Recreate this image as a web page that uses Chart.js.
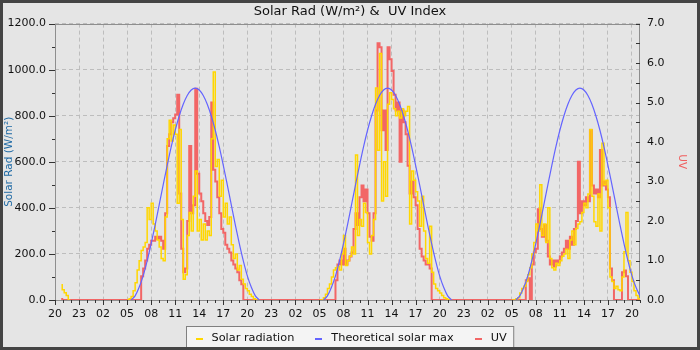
<!DOCTYPE html>
<html>
<head>
<meta charset="utf-8">
<title>Solar Rad &amp; UV Index</title>
<script src="https://cdn.jsdelivr.net/npm/chart.js@4.4.1/dist/chart.umd.min.js"></script>
<style>
  body { margin: 0; background: #e5e5e5; }
  canvas { display: block; }
</style>
</head>
<body>
<canvas id="solar_graph" width="700" height="350"></canvas>
<script>
// x axis counts hours from 20:00 on the first evening
const hourLabels = ["20","23","02","05","08","11","14","17",
                    "20","23","02","05","08","11","14","17",
                    "20","23","02","05","08","11","14","17","20"];
const seriesNames  = ["Solar radiation", "Theoretical solar max", "UV"];
const seriesColors = ["#ffd700", "#6464ff", "#f26666"];

// first evening, 15 min steps from 20:54
const eveStart = 0.9;
const eveSolar = [70, 45, 32, 20, 0];
const eveUV    = [0.05, 0, 0, 0, 0];

// daytime, 15 min steps from 05:00 (hour 9, 33, 57 on the axis)
const dayStart = [9, 33, 57];

const solarDay1 = [0,0,5,15,40,75,130,170,
    215,230,250,400, 350,420,330,300, 260,230,180,170, 360,700,780,690,
    760,720,420,740, 350,90,110,280, 380,300,450,560, 300,350,260,330,
    260,300,280,700, 990,580,610,450, 520,360,420,330, 360,240,180,200,
    130,150,90,70, 50,40,25,15, 5,0,0];
const uvDay1 = [0,0,0,0,0,0,0,0,
    0.6,0.8,1.0,1.3, 1.4,1.5,1.5,1.6, 1.55,1.6,1.5,1.3, 2.2,3.9,4.2,4.5,
    4.6,4.7,5.2,2.7, 1.3,0.7,0.8,2.0, 3.9,2.2,2.4,5.35, 3.2,2.7,2.5,2.2,
    2.0,1.9,2.1,5.0, 3.3,3.0,2.6,2.2, 1.8,1.7,1.4,1.3, 1.2,1.0,0.9,0.8,
    0.7,0.5,0.4,0, 0,0,0,0, 0,0,0];

const solarDay2 = [0,0,0,10,25,50,70,100,
    130,140,145,130, 200,280,150,170, 190,230,200,630, 280,350,320,420,
    380,250,200,280, 350,920,650,1070, 430,600,450,850, 900,870,830,800,
    820,790,830,800, 820,840,330,560, 520,470,430,320, 450,300,180,160,
    320,120,70,50, 40,30,20,10, 5,0,0];
const uvDay2 = [0,0,0,0,0,0,0,0,
    0,0.5,0.9,1.0, 0.9,1.3,0.9,1.0, 1.1,1.2,1.8,2.2, 1.9,2.6,2.9,2.5,
    2.8,2.2,1.6,1.5, 2.2,4.8,6.5,6.4, 4.3,4.8,3.8,6.4, 6.1,5.8,5.2,4.8,
    5.0,3.5,4.8,4.5, 4.2,3.4,2.7,3.0, 2.6,2.4,1.8,1.3, 1.1,1.0,0.9,0.9,
    0.8,0,0,0, 0,0,0,0, 0,0,0];

const solarDay3 = [0,0,0,5,10,30,50,60,
    80,110,140,200, 250,330,300,500, 280,330,250,400, 180,140,130,160,
    150,170,190,200, 220,180,260,300, 240,310,330,340, 380,420,400,460,
    740,450,340,320, 460,300,680,500, 520,400,100,80, 50,60,45,40,
    100,210,380,170, 120,80,40,20, 5];
const uvDay3 = [0,0,0,0,0,0,0,0,
    0.5,0.55,0,0.9, 1.2,1.3,2.3,1.8, 1.6,1.9,1.5,1.1, 0.9,1.0,0.85,1.0,
    0.95,1.1,1.2,1.3, 1.5,1.3,1.6,1.4, 1.8,2.0,3.5,2.2, 2.5,2.4,2.6,2.5,
    4.3,2.9,2.7,2.8, 2.6,3.8,2.9,3.0, 2.8,2.6,0.8,0.5, 0,0,0,0,
    0.7,0.75,0.6,0, 0,0,0,0, 0];

// theoretical max, 30 min steps from 05:30
const theoStart = [9.5, 33.5, 57.5];
const theoDay1 = [0,18,55,105,170,245,326,413,500,585,665,737,799,850,888,912,
                  920,912,888,850,799,737,665,585,500,413,326,245,170,105,55,18,0];
const theoDay2 = [0,18,55,105,170,245,326,413,500,585,665,737,799,850,888,912,
                  920,912,888,850,799,737,665,585,500,413,326,245,170,105,55,18,0];
const theoDay3 = [0,18,55,105,170,245,326,413,500,585,665,737,799,850,888,912,
                  920,912,888,850,799,737,665,585,500,413,326,245,170,105,55,18];

const gridColor  = "#bdbdbd";
const frameColor = "#8e8e8e";

function points(start, step, values){
    let pts = [];
    for (let i = 0; i < values.length; i++){
        pts.push({x: start + i * step, y: values[i]});
    }
    return pts;
}
function gap(x){ return {x: x, y: null}; }

let solarData = [].concat(
    points(eveStart, 0.25, eveSolar), [gap(5)],
    points(dayStart[0], 0.25, solarDay1), [gap(29)],
    points(dayStart[1], 0.25, solarDay2), [gap(53)],
    points(dayStart[2], 0.25, solarDay3));

let uvData = [].concat(
    points(eveStart, 0.25, eveUV),
    points(dayStart[0], 0.25, uvDay1),
    points(dayStart[1], 0.25, uvDay2),
    points(dayStart[2], 0.25, uvDay3));

let theoData = [].concat(
    points(theoStart[0], 0.5, theoDay1), [gap(29)],
    points(theoStart[1], 0.5, theoDay2), [gap(53)],
    points(theoStart[2], 0.5, theoDay3));

// background, plot frame, short ticks, legend box and outer border
const decor = {
    id: "decor",
    beforeDraw(chart){
        const ctx = chart.ctx;
        ctx.save();
        ctx.fillStyle = "#e5e5e5";
        ctx.fillRect(0, 0, chart.width, chart.height);
        ctx.restore();
    },
    beforeDatasetsDraw(chart){
        const {ctx, chartArea: a, scales} = chart;
        ctx.save();
        ctx.strokeStyle = frameColor;
        ctx.lineWidth = 1;
        ctx.strokeRect(Math.round(a.left) + 0.5, Math.round(a.top) + 0.5,
                       Math.round(a.right - a.left) - 1, Math.round(a.bottom - a.top));
        ctx.strokeStyle = "#333";
        ctx.beginPath();
        for (let t of scales.x.ticks){
            const x = Math.round(scales.x.getPixelForValue(t.value)) + 0.5;
            const len = t.value % 3 === 0 ? 5 : 3;
            ctx.moveTo(x, a.bottom); ctx.lineTo(x, a.bottom + len);
        }
        for (let t of scales.y.ticks){
            const y = Math.round(scales.y.getPixelForValue(t.value)) + 0.5;
            const len = t.value % 200 === 0 ? 6 : 3;
            ctx.moveTo(a.left - len, y); ctx.lineTo(a.left, y);
        }
        for (let t of scales.uv.ticks){
            const y = Math.round(scales.uv.getPixelForValue(t.value)) + 0.5;
            ctx.moveTo(a.right - 4, y); ctx.lineTo(a.right, y);
        }
        ctx.stroke();
        ctx.restore();
    },
    afterDraw(chart){
        const ctx = chart.ctx;
        ctx.save();
        ctx.font = "11.3px 'DejaVu Sans'";
        const markW = 7, markGap = 9, itemGap = 21, padL = 9, padR = 7;
        const widths = seriesNames.map(n => ctx.measureText(n).width);
        let total = padL + padR;
        widths.forEach((w, i) => { total += markW + markGap + w + (i ? itemGap : 0); });
        let x = Math.round(chart.width / 2 - total / 2) + 0.5;
        const top = 326.5;
        ctx.fillStyle = "#f4f4f4";
        ctx.fillRect(x, top, total, 30);
        ctx.strokeStyle = "#808080";
        ctx.lineWidth = 1;
        ctx.strokeRect(x, top, total, 30);
        x += padL;
        ctx.textBaseline = "middle";
        seriesNames.forEach((n, i) => {
            ctx.fillStyle = seriesColors[i];
            ctx.fillRect(Math.round(x), 338, markW, 2);
            x += markW + markGap;
            ctx.fillStyle = "#111";
            ctx.fillText(n, x, 338);
            x += widths[i] + itemGap;
        });
        ctx.strokeStyle = "#444";
        ctx.lineWidth = 3;
        ctx.strokeRect(1.5, 1.5, chart.width - 3, chart.height - 3);
        ctx.restore();
    }
};

Chart.defaults.font.family = "'DejaVu Sans', sans-serif";
Chart.defaults.color = "#111";

const ctx = document.getElementById("solar_graph").getContext("2d");
const solarChart = new Chart(ctx, {
    type: "line",
    data: {
        datasets: [{
            label: seriesNames[0],
            data: solarData,
            yAxisID: "y",
            borderColor: seriesColors[0],
            backgroundColor: seriesColors[0],
            borderWidth: 1.5,
            stepped: "after",
            pointRadius: 0,
            spanGaps: false,
            order: 1
        }, {
            label: seriesNames[1],
            data: theoData,
            yAxisID: "y",
            borderColor: seriesColors[1],
            backgroundColor: seriesColors[1],
            borderWidth: 1.2,
            cubicInterpolationMode: "monotone",
            pointRadius: 0,
            spanGaps: false,
            order: 0
        }, {
            label: seriesNames[2],
            data: uvData,
            yAxisID: "uv",
            borderColor: seriesColors[2],
            backgroundColor: seriesColors[2],
            borderWidth: 2,
            stepped: "after",
            pointRadius: 0,
            order: 2
        }]
    },
    options: {
        responsive: false,
        animation: false,
        events: [],
        layout: { padding: { left: 3, right: 3, top: 0, bottom: 28 } },
        plugins: {
            legend: { display: false },
            tooltip: { enabled: false },
            title: {
                display: true,
                text: "Solar Rad (W/m²) &  UV Index",
                color: "#111",
                font: { size: 13, weight: "normal" },
                padding: { top: 4, bottom: 4 }
            }
        },
        scales: {
            x: {
                type: "linear",
                min: 0,
                max: 73,
                afterFit: s => { s.height = 22; },
                grid: {
                    color: c => (c.tick && c.tick.value % 3 === 0) ? gridColor : "transparent",
                    drawTicks: false
                },
                border: { display: false, dash: [4, 3] },
                ticks: {
                    stepSize: 1,
                    autoSkip: false,
                    maxRotation: 0,
                    padding: 8,
                    font: { size: 11 },
                    callback: v => v % 3 === 0 ? hourLabels[v / 3] : ""
                }
            },
            y: {
                position: "left",
                min: 0,
                max: 1200,
                afterFit: s => { s.width = 52; },
                grid: {
                    color: c => (c.tick && c.tick.value % 200 === 0) ? gridColor : "transparent",
                    drawTicks: false
                },
                border: { display: false, dash: [4, 3] },
                ticks: {
                    stepSize: 100,
                    autoSkip: false,
                    padding: 9,
                    font: { size: 11 },
                    callback: v => v % 200 === 0 ? v.toFixed(1) : ""
                },
                title: {
                    display: true,
                    text: "Solar Rad (W/m²)",
                    color: "#1f6aa5",
                    font: { size: 10.5 },
                    padding: { top: 0, bottom: 0 }
                }
            },
            uv: {
                position: "right",
                min: 0,
                max: 7,
                afterFit: s => { s.width = 57; },
                grid: { drawOnChartArea: false, drawTicks: false },
                border: { display: false },
                ticks: {
                    stepSize: 0.5,
                    autoSkip: false,
                    padding: 7,
                    font: { size: 11 },
                    callback: v => Number.isInteger(v) ? v.toFixed(1) : ""
                },
                title: {
                    display: true,
                    text: "UV",
                    color: "#f06060",
                    font: { size: 10.5 },
                    padding: { top: 9, bottom: 0 }
                }
            }
        }
    },
    plugins: [decor]
});
</script>
</body>
</html>
